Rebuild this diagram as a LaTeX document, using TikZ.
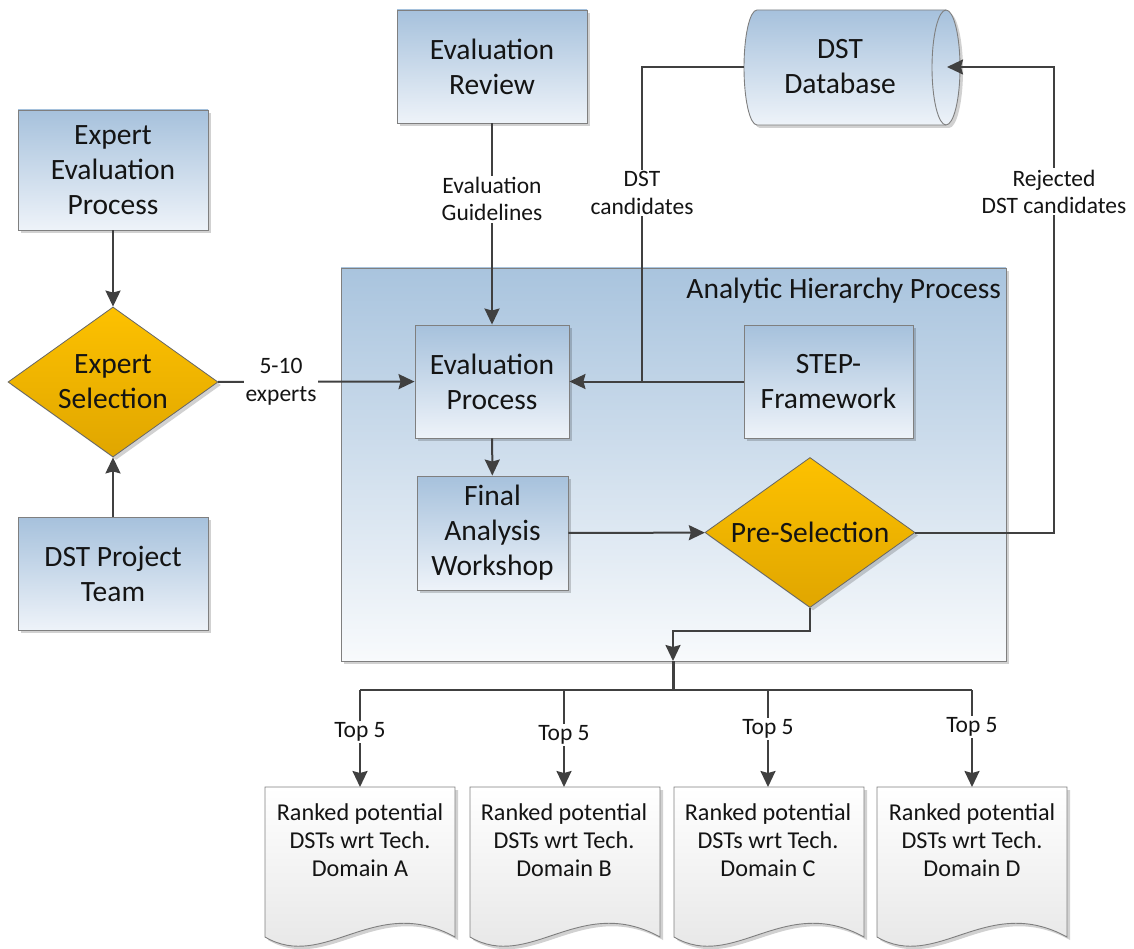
\documentclass[tikz,border=0pt]{standalone}
\usepackage{fontspec}
\setmainfont{Carlito}
\usetikzlibrary{shapes.geometric,arrows.meta,shadows}
\definecolor{boxtop}{HTML}{A6C1DC}
\definecolor{boxbot}{HTML}{EEF3F9}
\definecolor{ctop}{HTML}{A9C4DE}
\definecolor{cbot}{HTML}{F8FAFC}
\definecolor{dtop}{HTML}{FDC100}
\definecolor{dbot}{HTML}{E0A600}
\definecolor{edge}{HTML}{7F7F7F}
\definecolor{conncol}{HTML}{404040}
\definecolor{txt}{HTML}{141414}
\definecolor{doctop}{HTML}{FFFFFF}
\definecolor{docbot}{HTML}{E4E4E4}
\newcommand{\myBig}{\fontsize{29.5}{35}\selectfont}
\newcommand{\myLab}{\fontsize{23.5}{27.5}\selectfont}
\newcommand{\myDoc}{\fontsize{24.2}{28}\selectfont}
\tikzset{
  shad/.style={drop shadow={shadow xshift=3pt,shadow yshift=-3pt,opacity=0.18,fill=black}},
  procbox/.style={draw=edge,line width=0.9pt,top color=boxtop,bottom color=boxbot,shad,
    inner sep=0pt,align=center,font=\myBig,text=txt},
  decision/.style={diamond,aspect=1.4,draw=edge!80!black,line width=0.8pt,top color=dtop,bottom color=dbot,shad,
    inner sep=0pt,minimum width=210,minimum height=150,align=center,font=\myBig,text=txt},
  conn/.style={draw=conncol,line width=2pt},
  arr/.style={conn,-{Stealth[length=16pt,width=15pt,inset=2pt]}},
  lab/.style={fill=white,inner sep=1.5pt,align=center,font=\myLab,text=txt},
  doctext/.style={align=center,font=\myDoc,text=txt,inner sep=0pt},
}
\begin{document}
\begin{tikzpicture}[x=1pt,y=-1pt]
\useasboundingbox (0,0) rectangle (1134,949);

% container
\node[draw=edge,line width=0.9pt,top color=ctop,bottom color=cbot,shad,inner sep=0pt,
  minimum width=665,minimum height=393] (ahp) at (673.5,464.5) {};
\node[anchor=east,font=\myBig,text=txt,inner sep=0pt] (ahpt) at (1001,291) {Analytic Hierarchy Process};

% left column
\node[procbox,minimum width=190,minimum height=120] (eep) at (113,170) {Expert\\Evaluation\\Process};
\node[decision] (esel) at (113,382) {Expert\\Selection};
\node[procbox,minimum width=190,minimum height=113] (dpt) at (113,573.5) {DST Project\\Team};

% top
\node[procbox,minimum width=190,minimum height=113] (evr) at (492,66.5) {Evaluation\\Review};

% database cylinder
\path[draw=edge,line width=0.9pt,top color=boxtop,bottom color=boxbot,shad]
  (757,10) -- (946,10)
  .. controls (953.7,10) and (960,35.7) .. (960,67.5)
  .. controls (960,99.3) and (953.7,125) .. (946,125)
  -- (757,125)
  .. controls (749.8,125) and (744,99.3) .. (744,67.5)
  .. controls (744,35.7) and (749.8,10) .. (757,10) -- cycle;
\draw[edge,line width=0.9pt] (946,10) .. controls (938.3,10) and (932,35.7) .. (932,67.5)
  .. controls (932,99.3) and (938.3,125) .. (946,125);
\node[align=center,font=\myBig,text=txt,inner sep=0pt] (db) at (840,67) {DST\\Database};
\coordinate (dbL) at (744,67);
\coordinate (dbR) at (947,67);

% inner nodes
\node[procbox,minimum width=154,minimum height=113] (evp) at (492,381.5) {Evaluation\\Process};
\node[procbox,minimum width=169,minimum height=113] (step) at (828.5,381.5) {STEP-\\Framework};
\node[procbox,minimum width=151,minimum height=114] (fin) at (492.5,533) {Final\\Analysis\\Workshop};
\node[decision] (pre) at (810,532.5) {Pre-Selection};

% documents
\foreach \L/\n/\c in {265/A/360,470/B/564,674/C/768,877/D/972}{
  \path[draw=edge,line width=0.9pt,top color=doctop,bottom color=docbot,shad]
    (\L,787) -- (\L+190,787) -- (\L+190,937)
    .. controls (\L+110,893) and (\L+60,972) .. (\L,937) -- cycle;
  \node[doctext] (doc\n) at (\c,840) {Ranked potential\\DSTs wrt Tech.\\Domain \n};
  \coordinate (top\n) at (\c,787);
  \coordinate (bus\n) at (\c,690);
}

% connectors
\draw[arr] (eep) -- (esel);
\draw[arr] (dpt) -- (esel);
\draw[arr] (esel) -- node[lab,pos=0.32]{5-10\\experts} (evp);
\draw[arr] (evr) -- node[lab,pos=0.376]{Evaluation\\Guidelines} (evp);
\coordinate (jn) at (642,381.5);
\draw[conn] (dbL) -| node[lab,pos=0.7]{DST\\candidates} (jn);
\draw[arr] (step) -- (evp);
\draw[arr] (evp) -- (fin);
\draw[arr] (fin) -- (pre);
\coordinate (rjc) at (1054,532.5);
\draw[arr] (pre.east) -- (rjc) |- node[lab,pos=0.366]{Rejected\\DST candidates} (dbR);
\coordinate (tr) at (673,631);
\coordinate (trb) at (673,661);
\coordinate (busM) at (673,690);
\draw[arr] (pre.south) |- (tr) -- (trb);
\draw[draw=conncol,line width=3pt] (trb) -- (busM);
\draw[conn] (busA) -- (busD);
\draw[arr] (busA) -- node[lab,pos=0.43]{Top 5} (topA);
\draw[arr] (busB) -- node[lab,pos=0.46]{Top 5} (topB);
\draw[arr] (busC) -- node[lab,pos=0.40]{Top 5} (topC);
\draw[arr] (busD) -- node[lab,pos=0.38]{Top 5} (topD);
\end{tikzpicture}
\end{document}
